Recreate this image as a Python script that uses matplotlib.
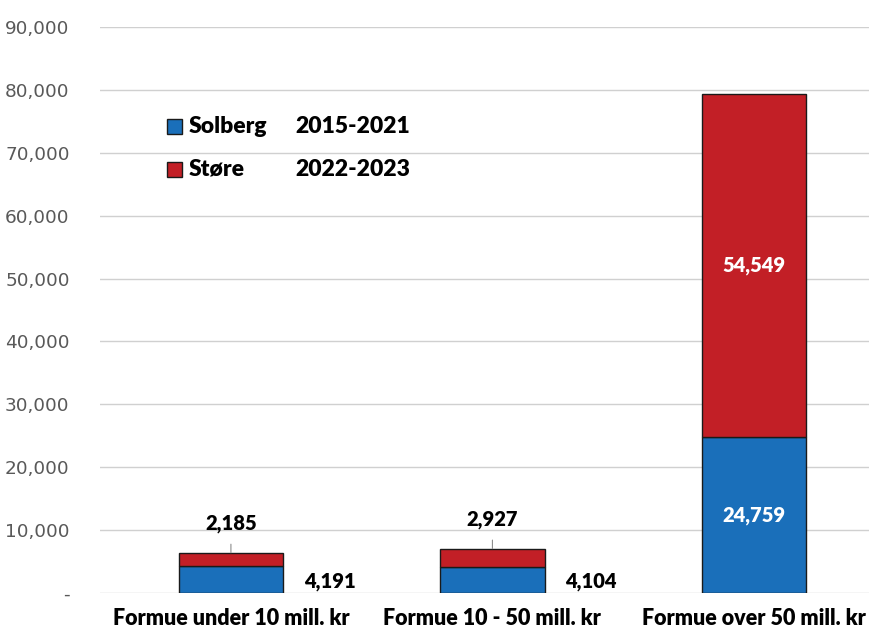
import matplotlib
matplotlib.use("Agg")
import matplotlib.pyplot as plt
import numpy as np
from matplotlib.patches import Rectangle

# Data
categories = ["Formue under 10 mill. kr", "Formue 10 - 50 mill. kr", "Formue over 50 mill. kr"]
solberg = [4191, 4104, 24759]
store = [2185, 2927, 54549]
series_names = ["Solberg", "Støre"]
series_years = ["2015-2021", "2022-2023"]

BLUE = "#1a6fba"
RED = "#c21f26"
EDGE = "#1a1a1a"
FONT = ["Lato", "DejaVu Sans"]
WEIGHT = "heavy"

fig = plt.figure(figsize=(8.71, 6.30), dpi=100, facecolor="white")
ax = fig.add_axes([0.115, 0.059, 0.883, 0.898])

x = np.arange(len(categories))
width = 0.40
ax.bar(x, solberg, width, color=BLUE, edgecolor=EDGE, linewidth=1.0, zorder=3)
ax.bar(x, store, width, bottom=solberg, color=RED, edgecolor=EDGE, linewidth=1.0, zorder=3)

ax.set_ylim(0, 90000)
ax.set_xlim(-0.50, 2.441)
ax.set_yticks(np.arange(0, 90001, 10000))
ax.set_yticklabels(["-"] + [f"{v:,}" for v in range(10000, 90001, 10000)])
ax.grid(axis="y", color="#d0d0d0", linewidth=1.0, zorder=0)
for s in ax.spines.values():
    s.set_visible(False)
ax.tick_params(axis="y", length=0, pad=22, labelsize=13.3, labelcolor="#595959")
ax.tick_params(axis="x", length=0, pad=11)
ax.set_xticks(x)
ax.set_xticklabels(categories, fontsize=15.5, fontweight=WEIGHT, family=FONT)

# Data labels
for i in range(len(categories)):
    s, r = solberg[i], store[i]
    if s + r > 20000:
        ax.text(x[i], s / 2, f"{s:,}", ha="center", va="center", color="white",
                fontsize=14.5, fontweight=WEIGHT, family=FONT, zorder=4)
        ax.text(x[i], s + r / 2, f"{r:,}", ha="center", va="center", color="white",
                fontsize=14.5, fontweight=WEIGHT, family=FONT, zorder=4)
    else:
        ax.annotate(f"{s:,}", xy=(x[i] + width / 2, s / 2), xytext=(15, -1),
                    textcoords="offset points", ha="left", va="center",
                    fontsize=14.5, fontweight=WEIGHT, family=FONT)
        ax.annotate(f"{r:,}", xy=(x[i], s + r), xytext=(0, 21),
                    textcoords="offset points", ha="center", va="center",
                    fontsize=14.5, fontweight=WEIGHT, family=FONT,
                    arrowprops=dict(arrowstyle="-", color="#8c8c8c", lw=0.8,
                                    shrinkA=6, shrinkB=0))

# Legend (drawn by hand to get the two-column layout)
colors = [BLUE, RED]
row_y = [0.825, 0.749]
for name, yr, c, yy in zip(series_names, series_years, colors, row_y):
    ax.add_patch(Rectangle((0.087, yy - 0.0133), 0.0195, 0.0266, transform=ax.transAxes,
                           facecolor=c, edgecolor=EDGE, linewidth=1.0, zorder=5))
    ax.text(0.115, yy, name, transform=ax.transAxes, ha="left", va="center",
            fontsize=16.5, fontweight=WEIGHT, family=FONT)
    ax.text(0.2536, yy, yr, transform=ax.transAxes, ha="left", va="center",
            fontsize=16.5, fontweight=WEIGHT, family=FONT)

fig.savefig("out.png", dpi=100, facecolor="white")
